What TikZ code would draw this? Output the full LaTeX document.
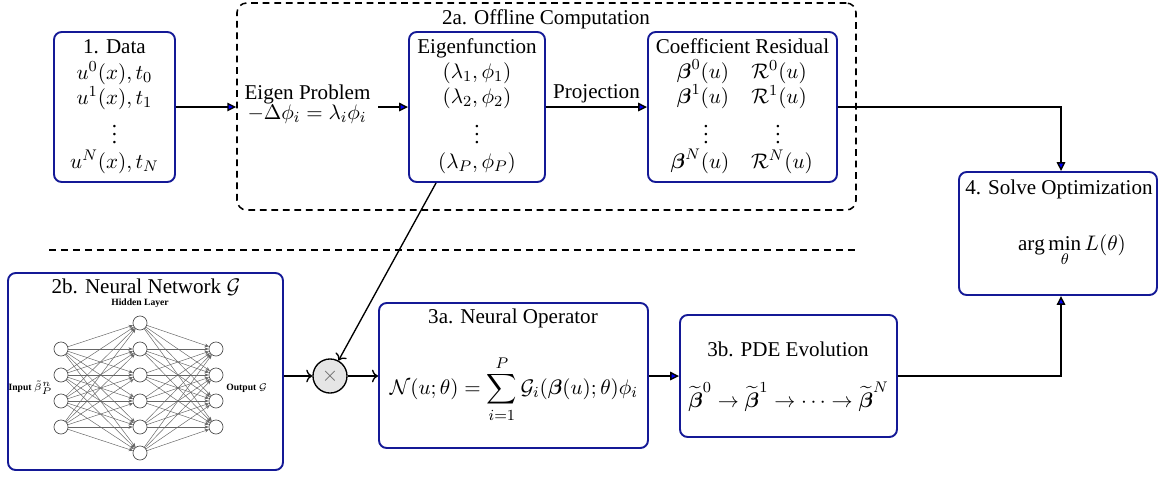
\documentclass[tikz,border=0pt,11pt]{standalone}
\usepackage{amsmath,amssymb}
\usepackage{fontspec}
\setmainfont{Liberation Serif}
\usetikzlibrary{arrows.meta,fit,calc}
\definecolor{boxblue}{RGB}{20,25,150}
\newcommand{\tightvdots}{\vbox{\baselineskip4pt\lineskiplimit0pt\hbox{.}\hbox{.}\hbox{.}}}
\begin{document}
\begin{tikzpicture}[x=0.52pt,y=-0.52pt,
  box/.style={draw=boxblue, line width=1pt, rounded corners=4pt, inner sep=0pt},
  dbox/.style={draw=black, line width=0.8pt, dash pattern=on 3.5pt off 2.5pt, rounded corners=5pt, inner sep=0pt},
  sepline/.style={draw=black, line width=1.5pt, dash pattern=on 3.6pt off 2.6pt},
  txt/.style={inner sep=0pt, anchor=base},
  arr/.style={draw=black, line width=0.7pt, -{Triangle[length=4.6pt,width=4.4pt,fill=blue]}},
  plainarr/.style={draw=black, line width=0.7pt, ->},
  nnnode/.style={circle, draw=black!70, line width=0.35pt, fill=white, minimum size=7.3pt, inner sep=0pt},
  nnedge/.style={draw=black!60, line width=0.25pt, -{Stealth[length=2.2pt,width=1.8pt]}},
  nnlabel/.style={inner sep=0pt, font=\fontsize{5}{6}\selectfont\bfseries},
]
\useasboundingbox (0,0) rectangle (1158,482);

% --- top row boxes
\node[dbox, fit={(237,3) (856,210)}] (dbox) {};
\node[txt] (dboxtitle) at (546,24) {2a. Offline Computation};

\node[box, fit={(54,32) (175,182)}] (data) {};
\node[txt] (d0) at (114.5,53) {1. Data};
\node[txt] (d1) at (114.5,79) {$u^0(x),t_0$};
\node[txt] (d2) at (114.5,104) {$u^1(x),t_1$};
\node[txt] (d3) at (114.5,143) {\tightvdots};
\node[txt] (d4) at (114.5,168) {$u^N(x),t_N$};

\node[txt] (eigp1) at (307.5,99) {Eigen Problem};
\node[txt] (eigp2) at (307,119) {$-\Delta\phi_i=\lambda_i\phi_i$};
\coordinate (eigpout) at (378,107);

\node[box, fit={(409,32) (545,182)}] (eig) {};
\node[txt] (e0) at (477,53) {Eigenfunction};
\node[txt] (e1) at (477,78.5) {$(\lambda_1,\phi_1)$};
\node[txt] (e2) at (477,103.5) {$(\lambda_2,\phi_2)$};
\node[txt] (e3) at (477,143) {\tightvdots};
\node[txt] (e4) at (477,168.5) {$(\lambda_P,\phi_P)$};

\node[box, fit={(648,32) (837,182)}] (coef) {};
\node[txt] (c0) at (742.5,53) {Coefficient Residual};
\node[txt] (cb0) at (703,78.5) {$\boldsymbol{\beta}^0(u)$};
\node[txt] (cb1) at (703,103.5) {$\boldsymbol{\beta}^1(u)$};
\node[txt] (cb2) at (706,143) {\tightvdots};
\node[txt] (cb3) at (700,168.5) {$\boldsymbol{\beta}^N(u)$};
\node[txt] (cr0) at (779,78.5) {$\mathcal{R}^0(u)$};
\node[txt] (cr1) at (779,103.5) {$\mathcal{R}^1(u)$};
\node[txt] (cr2) at (778,143) {\tightvdots};
\node[txt] (cr3) at (782,168.5) {$\mathcal{R}^N(u)$};

\node[box, fit={(959,172) (1157,295)}] (solve) {};
\node[txt] (s0) at (1059,194) {4. Solve Optimization};
\node[inner sep=0pt] (s1) at (1072,251) {$\displaystyle\arg\min_{\theta} L(\theta)$};

% --- separator
\coordinate (sepL) at (49,250);
\coordinate (sepR) at (858,250);
\draw[sepline] (sepL) -- (sepR);

% --- bottom row
\node[box, fit={(8,273) (283,470)}] (nn) {};
\node[txt] (nntitle) at (146,293) {2b. Neural Network $\mathcal{G}$};
\node[nnlabel] (hl) at (140,303) {Hidden Layer};
\node[nnlabel, anchor=east] (inl) at (53,388) {Input $\tilde{\beta}^n_P$};
\node[nnlabel, anchor=west] (outl) at (226,388) {Output $\mathcal{G}$};
\foreach \i/\y in {1/349,2/375,3/401,4/427} {
  \node[nnnode] (in\i) at (61,\y) {};
  \node[nnnode] (out\i) at (216,\y) {};
}
\foreach \j/\y in {1/323,2/349,3/375,4/401,5/427,6/453} {
  \node[nnnode] (hid\j) at (140,\y) {};
}
\foreach \i in {1,...,4} {
  \foreach \j in {1,...,6} {
    \draw[nnedge] (in\i) -- (hid\j);
    \draw[nnedge] (hid\j) -- (out\i);
  }
}

\node[circle, draw=black, line width=0.7pt, fill=gray!20, minimum size=17.7pt, inner sep=0pt, text=black!60] (times) at (330,376) {$\times$};

\node[box, fit={(379,303) (648,448)}] (op) {};
\node[txt] (o0) at (513,323) {3a. Neural Operator};
\node[inner sep=0pt] (o1) at (514,389) {$\displaystyle\mathcal{N}(u;\theta)=\sum_{i=1}^{P}\mathcal{G}_i(\boldsymbol{\beta}(u);\theta)\phi_i$};

\node[box, fit={(680,315) (897,437)}] (pde) {};
\node[txt] (p0) at (788,356) {3b. PDE Evolution};
\node[txt] (p1) at (788.5,407) {$\widetilde{\boldsymbol{\beta}}^0\to\widetilde{\boldsymbol{\beta}}^1\to\cdots\to\widetilde{\boldsymbol{\beta}}^N$};

% --- connectors
\draw[arr] (data.east) -- (dbox.west |- data.east);
\draw[arr] (eigpout) -- (eig.west |- eigpout);
\draw[arr] (eig.east) -- node[above=2pt, inner sep=0pt] (projl) {Projection} (coef.west);
\draw[arr] (coef.east) -| ($(solve.north)+(3,0)$);
\draw[plainarr] ($(eig.south west)+(28,0)$) -- (times);
\draw[plainarr] (nn.east |- times) -- (times);
\draw[plainarr] (times) -- (op.west |- times);
\draw[arr] (op.east |- pde.west) -- (pde.west);
\draw[arr] (pde.east) -| ($(solve.south)+(3,0)$);
\end{tikzpicture}
\end{document}
